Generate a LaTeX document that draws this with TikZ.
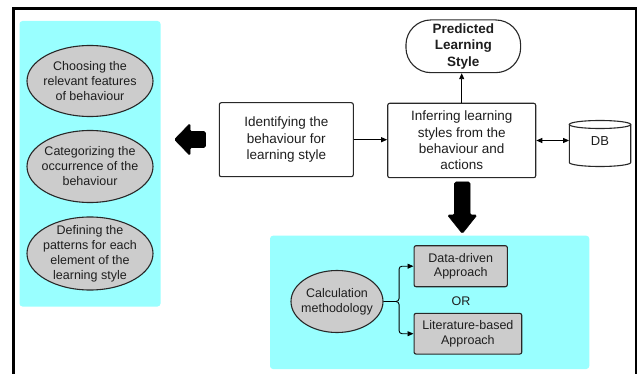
\documentclass[tikz,border=0pt]{standalone}
\usepackage{fontspec}
\setmainfont{Liberation Sans}
\usetikzlibrary{arrows.meta,shapes.geometric,calc}
\definecolor{cyanbg}{RGB}{153,255,255}
\definecolor{greyfill}{RGB}{204,204,204}
\definecolor{linec}{RGB}{40,40,40}
\definecolor{txt}{RGB}{30,30,30}
\begin{document}
\begin{tikzpicture}[x=1pt,y=-1pt,
  panel/.style={fill=cyanbg, draw=none, rounded corners=3pt},
  oval/.style={ellipse, draw=linec, line width=1.1pt, fill=greyfill, inner sep=0pt},
  ovaltxt/.style={align=center, inner sep=0pt, text=txt, font=\fontsize{12.5}{15}\selectfont},
  wbox/.style={rectangle, draw=linec, line width=1.1pt, fill=white, rounded corners=2pt, align=center, inner sep=0pt, text=txt, font=\fontsize{13.5}{16.3}\selectfont},
  gbox/.style={rectangle, draw=linec, line width=1.1pt, fill=greyfill, rounded corners=2pt, align=center, inner sep=0pt, text=txt, font=\fontsize{12.5}{14.5}\selectfont},
  conn/.style={draw=black, line width=0.9pt, -{Triangle[length=6pt,width=5pt]}},
  bigarrow/.style={fill=black, draw=black, line width=0.6pt, rounded corners=1.5pt}
]
\useasboundingbox (0,0) rectangle (642,374);
\fill[white] (0,0) rectangle (642,374);
% outer frame (open at bottom)
\draw[line width=2.6pt, black] (13.5,374) -- (13.5,8.5) -- (636,8.5) -- (636,374);

% left panel
\fill[panel] (19.5,21) rectangle (160.5,306.5);
\node[oval, minimum width=126pt, minimum height=71pt] (e1) at (90,81) {};
\node[ovaltxt] (e1t) at (e1.center) {Choosing the\\relevant features\\of behaviour};
\node[oval, minimum width=126pt, minimum height=72pt] (e2) at (90,166.5) {};
\node[ovaltxt] (e2t) at (e2.center) {Categorizing the\\occurrence of the\\behaviour};
\node[oval, minimum width=126pt, minimum height=73pt] (e3) at (90,253.5) {};
\node[ovaltxt] (e3t) at (e3.center) {Defining the\\patterns for each\\element of the\\learning style};

% big left arrow
\fill[bigarrow] (174.5,139.5) -- (190,123.5) -- (190,131.5) -- (205.5,131.5) -- (205.5,147.5) -- (190,147.5) -- (190,155.5) -- cycle;

% main boxes
\node[wbox, minimum width=134pt, minimum height=74pt] (id) at (286.3,139.7) {Identifying the\\behaviour for\\learning style};
\node[wbox, minimum width=148pt, minimum height=74.4pt] (inf) at (461.7,140.5) {Inferring learning\\styles from the\\behaviour and\\actions};
\node[wbox, rounded corners=25pt, minimum width=114.7pt, minimum height=52.7pt, font=\bfseries\fontsize{13.5}{16.7}\selectfont] (pred) at (463.3,46.3) {Predicted\\Learning\\Style};

% DB cylinder
\fill[white] (569.3,124.5) -- (569.3,162.5) arc[start angle=180, end angle=0, x radius=30.7, y radius=4] -- (630.7,124.5) arc[start angle=0, end angle=-180, x radius=30.7, y radius=4] -- cycle;
\draw[line width=1.1pt, draw=linec] (569.3,124.5) -- (569.3,162.5) arc[start angle=180, end angle=0, x radius=30.7, y radius=4] -- (630.7,124.5);
\draw[line width=1.1pt, draw=linec] (600,124.5) ellipse[x radius=30.7, y radius=4];
\node[inner sep=0pt, minimum width=61.4pt, minimum height=38pt, text=txt, font=\fontsize{13}{15}\selectfont] (db) at (600,141.5) {DB};

% connectors
\draw[conn] (id.east) -- (id.east -| inf.west);
\draw[conn] (inf.north) -- (inf.north |- pred.south);
\draw[conn, {Triangle[length=6pt,width=5pt]}-{Triangle[length=6pt,width=5pt]}] (inf.east) -- (inf.east -| db.west);

% big down arrow
\fill[bigarrow] (454.5,182) -- (470,182) -- (470,215) -- (477,215) -- (462.3,233.5) -- (447.5,215) -- (454.5,215) -- cycle;

% bottom panel
\fill[panel] (270,235.7) rectangle (589.3,369);
\node[oval, minimum width=92pt, minimum height=62pt] (calc) at (337,301.5) {};
\node[ovaltxt] (calct) at (calc.center) {Calculation\\methodology};
\node[gbox, minimum width=93.3pt, minimum height=41pt] (dd) at (460.7,266.2) {Data-driven\\Approach};
\node[gbox, minimum width=107.7pt, minimum height=40.7pt] (lit) at (467.9,333.7) {Literature-based\\Approach};
\node[inner sep=0pt, text=txt, font=\fontsize{12.5}{15}\selectfont] (or) at (461,300.7) {OR};
\coordinate (fork) at ($(calc.east)+(15.5,0)$);
\draw[conn, rounded corners=3pt] (calc.east) -- (fork) |- (dd.west);
\draw[conn, rounded corners=3pt] (calc.east) -- (fork) |- (lit.west);
\end{tikzpicture}
\end{document}
